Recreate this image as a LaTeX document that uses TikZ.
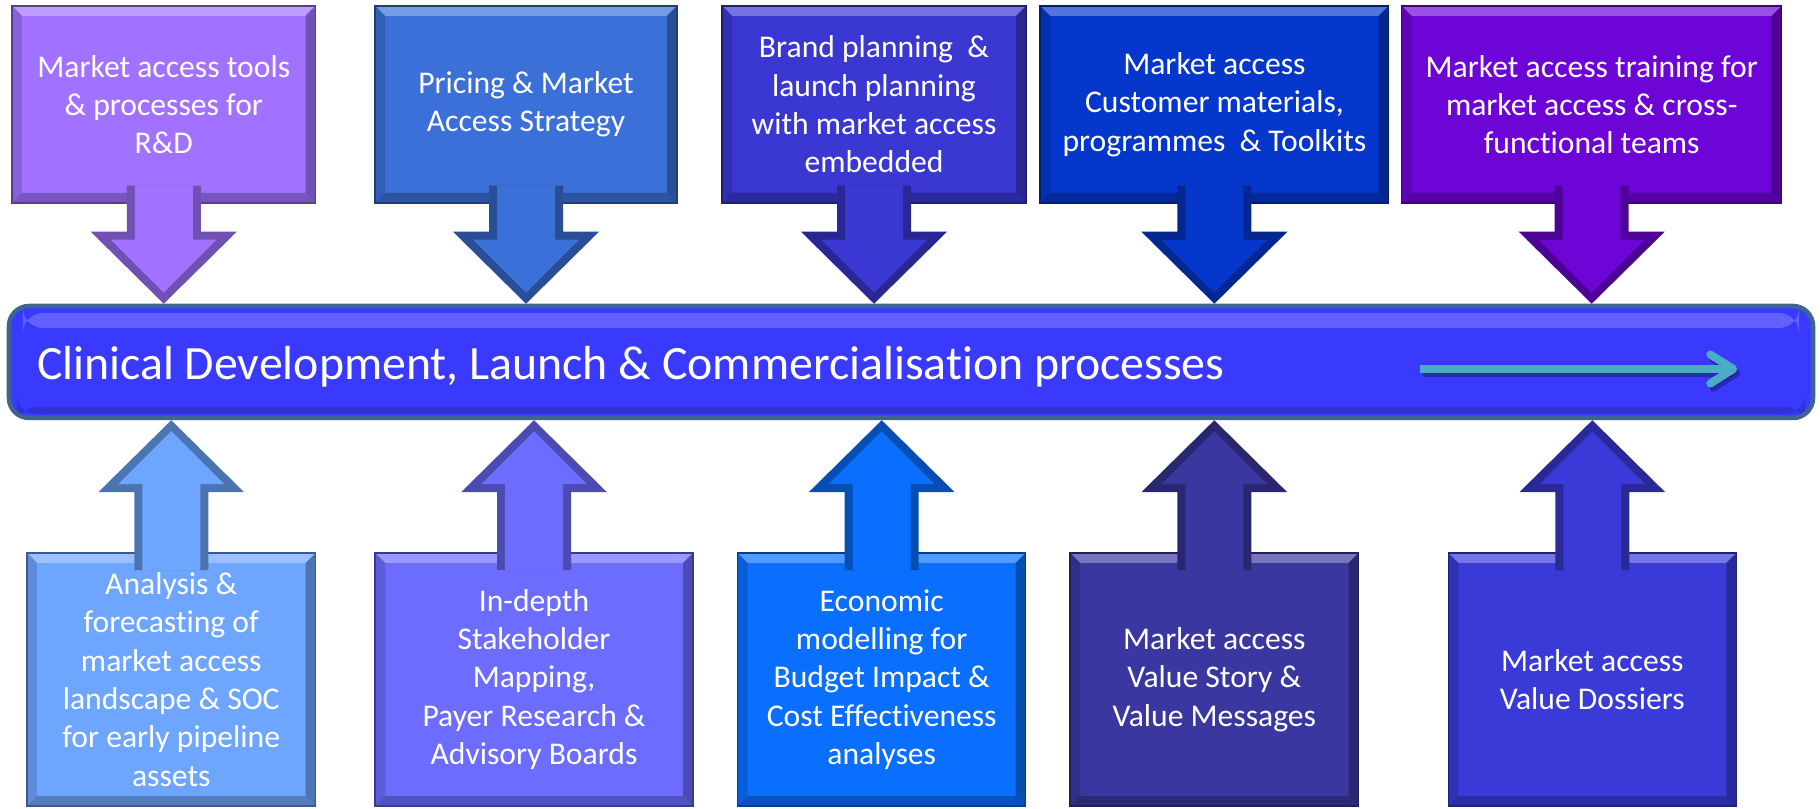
\documentclass[tikz,border=0pt]{standalone}
\usepackage{fontspec}
\setmainfont{Carlito}[Ligatures=NoCommon]
\usetikzlibrary{calc,arrows.meta}

\definecolor{lilac}{HTML}{A072FF}
\definecolor{cornflower}{HTML}{3A70D8}
\definecolor{indigoblue}{HTML}{3A37D2}
\definecolor{royal}{HTML}{0537CD}
\definecolor{purpleblue}{HTML}{6E05D7}
\definecolor{skyblue}{HTML}{6EA5FF}
\definecolor{periwinkle}{HTML}{6C6CFF}
\definecolor{azure}{HTML}{0A6EFF}
\definecolor{slateblue}{HTML}{3A38A0}
\definecolor{midblue}{HTML}{3A3AD8}
\definecolor{barblue}{HTML}{3A3AFF}
\definecolor{barrim}{HTML}{3E6590}
\definecolor{flowteal}{HTML}{4BACC6}

\tikzset{
  bevel/.style={path picture={
      \path (path picture bounding box.north west) coordinate (nw)
            (path picture bounding box.north east) coordinate (ne)
            (path picture bounding box.south west) coordinate (sw)
            (path picture bounding box.south east) coordinate (se);
      \fill[#1!70!white] (nw) -- (ne) -- ($(ne)+(-10,-10)$) -- ($(nw)+(10,-10)$) -- cycle;
      \fill[#1!85!black] (nw) -- (sw) -- ($(sw)+(10,10)$) -- ($(nw)+(10,-10)$) -- cycle;
      \fill[#1!70!black] (ne) -- (se) -- ($(se)+(-10,10)$) -- ($(ne)+(-10,-10)$) -- cycle;
      \fill[#1!75!black] (sw) -- (se) -- ($(se)+(-10,10)$) -- ($(sw)+(10,10)$) -- cycle;}},
  callbox/.style={rectangle, fill=#1, draw=#1!55!black, line width=.3mm, bevel=#1,
    inner sep=0pt, align=center, text=white, font=\fontsize{18}{21.8}\selectfont},
  topbox/.style={callbox=#1, minimum height=39.4mm},
  lowbox/.style={callbox=#1, minimum height=50.6mm},
  bar/.style={rectangle, rounded corners=4mm, fill=barblue, draw=barrim, line width=.9mm,
    minimum width=360.8mm, minimum height=22.4mm, inner sep=0pt,
    path picture={
      \fill[white,opacity=.2] ([shift={(14,-7)}]path picture bounding box.north west)
        rectangle ([shift={(-14,-22)}]path picture bounding box.north east);
      \fill[black,opacity=.15] ([shift={(8,4)}]path picture bounding box.south west)
        rectangle ([shift={(-8,11)}]path picture bounding box.south east);}},
  bartext/.style={text=white, inner sep=0pt, font=\fontsize{27.2}{32}\selectfont},
  flow/.style={flowteal, line width=1.6mm, -{Straight Barb[length=4.6mm,width=5.8mm,round]}}
}

\begin{document}
\begin{tikzpicture}[x=.2mm,y=.2mm]
  \useasboundingbox (0,0) rectangle (1820,808);
  % upper row of callouts
  \node[topbox=lilac, minimum width=60.7mm] (tools) at (163.75,703.5)
       {Market access tools\\ \& processes for\\ R\&D};
  \node[topbox=cornflower, minimum width=60.4mm] (pricing) at (526,703.5)
       {Pricing \& Market\\ Access Strategy};
  \node[topbox=indigoblue, minimum width=60.8mm] (brand) at (874,703.5)
       {Brand planning~ \&\\ launch planning\\ with market access\\ embedded};
  \node[topbox=royal, minimum width=69.7mm] (materials) at (1214.4,703.5)
       {Market access\\ Customer materials,\\ programmes~ \& Toolkits};
  \node[topbox=purpleblue, minimum width=76mm] (training) at (1591.7,703.5)
       {Market access training for\\ market access \& cross-\\ functional teams};
  % lower row of callouts
  \node[lowbox=skyblue, minimum width=57.7mm] (forecast) at (171.25,128.5)
       {Analysis \&\\ forecasting of\\ market access\\ landscape \& SOC\\ for early pipeline\\ assets};
  \node[lowbox=periwinkle, minimum width=63.6mm] (mapping) at (534,128.5)
       {In-depth\\ Stakeholder\\ Mapping,\\ Payer Research \&\\ Advisory Boards};
  \node[lowbox=azure, minimum width=57.6mm] (modelling) at (881.7,128.5)
       {Economic\\ modelling for\\ Budget Impact \&\\ Cost Effectiveness\\ analyses};
  \node[lowbox=slateblue, minimum width=57.7mm] (story) at (1214.3,128.5)
       {Market access\\ Value Story \&\\ Value Messages};
  \node[lowbox=midblue, minimum width=57.6mm] (dossiers) at (1592.3,128.5)
       {Market access\\ Value Dossiers};
  % process bar
  \node[bar] (bar) at (911,446) {};
  \node[bartext, anchor=west] (title) at ($(bar.west)+(30,-5)$)
       {Clinical Development, Launch \& Commercialisation processes};
  \coordinate (flowstart) at ($(bar.east)+(-395,-7)$);
  \coordinate (flowend) at ($(bar.east)+(-78,-7)$);
  \draw[flow, black, opacity=.3] ($(flowstart)+(3,-4)$) -- ($(flowend)+(3,-4)$);
  \draw[flow] (flowstart) -- (flowend);
  % block arrows into the bar
  \foreach \b/\c/\s/\a/\t in {tools/lilac/1/south/north, pricing/cornflower/1/south/north,
      brand/indigoblue/1/south/north, materials/royal/1/south/north,
      training/purpleblue/1/south/north, forecast/skyblue/-1/north/south,
      mapping/periwinkle/-1/north/south, modelling/azure/-1/north/south,
      story/slateblue/-1/north/south, dossiers/midblue/-1/north/south}
  {
    \fill[\c!70!black] ($(\b.\a)+(-37,18*\s)$) -- ($(\b.\a |- bar.\t)+(-37,72*\s)$) -- ++(-36,0)
      -- (\b.\a |- bar.\t) -- ($(\b.\a |- bar.\t)+(73,72*\s)$) -- ++(-36,0)
      -- ($(\b.\a)+(37,18*\s)$) -- cycle;
    \fill[\c] ($(\b.\a)+(-29,18*\s)$) -- ($(\b.\a |- bar.\t)+(-29,64*\s)$) -- ++(-24,0)
      -- ($(\b.\a |- bar.\t)+(0,11*\s)$) -- ($(\b.\a |- bar.\t)+(53,64*\s)$) -- ++(-24,0)
      -- ($(\b.\a)+(29,18*\s)$) -- cycle;
  }
\end{tikzpicture}
\end{document}
